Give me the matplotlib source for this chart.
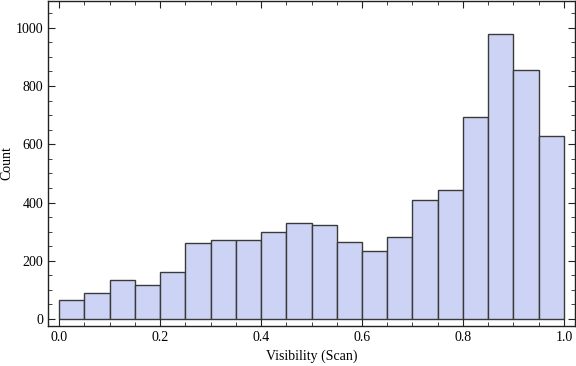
import numpy as np
import matplotlib.pyplot as plt
from matplotlib.ticker import MultipleLocator

# histogram of visibility, 20 bins of width 0.05
bin_edges = [i * 0.05 for i in range(21)]
counts = [65, 91, 134, 116, 161, 260, 273, 273, 298, 329,
          324, 266, 233, 281, 410, 444, 693, 978, 855, 629]

plt.rcParams['font.family'] = ['Liberation Serif', 'DejaVu Serif']

fig = plt.figure(figsize=(5.76, 3.66), dpi=100)
ax = fig.add_axes([48 / 576, 1 - 326 / 366, 527 / 576, 325 / 366])

ax.bar(bin_edges[:-1], counts, width=0.05, align='edge',
       color='#cdd3f5', edgecolor='#3a3a3a', linewidth=1.0)

ax.set_xlim(-0.0218, 1.0218)
ax.set_ylim(-24, 1092)

ax.xaxis.set_major_locator(MultipleLocator(0.2))
ax.xaxis.set_minor_locator(MultipleLocator(0.05))
ax.yaxis.set_major_locator(MultipleLocator(200))
ax.yaxis.set_minor_locator(MultipleLocator(50))
ax.xaxis.set_major_formatter(plt.FuncFormatter(lambda v, p: f'{v:.1f}'))

ax.tick_params(which='both', direction='in', top=True, right=True,
               labelsize=10, color='#222222')
ax.tick_params(which='major', length=5, width=0.8)
ax.tick_params(which='minor', length=3, width=0.6)

for s in ax.spines.values():
    s.set_color('#222222')
    s.set_linewidth(1.0)

ax.set_xlabel('Visibility (Scan)', fontsize=10, labelpad=4)
ax.set_ylabel('Count', fontsize=10)
ax.yaxis.set_label_coords(-0.066, 0.5)

fig.savefig('out.png', dpi=100)
